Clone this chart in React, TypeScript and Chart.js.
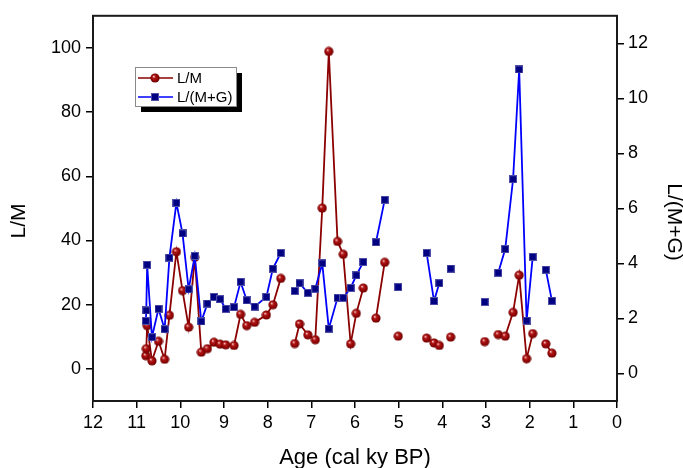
import React, { useEffect, useRef } from 'react';
import { Chart, registerables } from 'chart.js';

Chart.register(...registerables);

// null rows mark breaks in the original series
const ages: (number | null)[] = [
  10.79, 10.78, 10.76, 10.65, 10.5, 10.36, 10.25, 10.09, 9.95, 9.81, 9.67, 9.52, 9.38, 9.23, 9.09, 8.96, 8.77, 8.62, 8.48, 8.3, 8.03, 7.88, 7.7,
  null,
  7.38, 7.27, 7.08, 6.91, 6.75, 6.6, 6.4, 6.27, 6.1, 5.97, 5.81,
  null,
  5.52, 5.32,
  null,
  5.01,
  null,
  4.36, 4.19, 4.07,
  null,
  3.81,
  null,
  3.03,
  null,
  2.72, 2.56, 2.38, 2.24, 2.07, 1.93,
  null,
  1.63, 1.49,
];

const lmValues: (number | null)[] = [
  4.1, 6.3, 13.5, 2.5, 8.6, 3.0, 16.7, 36.5, 24.4, 13.0, 34.8, 5.2, 6.3, 8.3, 7.7, 7.5, 7.3, 17.0, 13.5, 14.5, 16.8, 20.0, 28.2,
  null,
  7.9, 14.0, 10.6, 9.1, 50.1, 98.9, 39.7, 35.7, 7.8, 17.3, 25.2,
  null,
  15.8, 33.2,
  null,
  10.2,
  null,
  9.6, 8.1, 7.3,
  null,
  9.9,
  null,
  8.5,
  null,
  10.7, 10.2, 17.6, 29.2, 3.2, 11.0,
  null,
  7.8, 4.9,
];

const lmgValues: (number | null)[] = [
  1.91, 2.29, 3.95, 1.32, 2.35, 1.61, 4.21, 6.2, 5.09, 3.06, 4.27, 1.89, 2.54, 2.78, 2.7, 2.35, 2.41, 3.33, 2.66, 2.43, 2.78, 3.81, 4.38,
  null,
  3.0, 3.28, 2.93, 3.08, 4.0, 1.63, 2.75, 2.75, 3.11, 3.57, 4.05,
  null,
  4.77, 6.31,
  null,
  3.14,
  null,
  4.38, 2.63, 3.28,
  null,
  3.81,
  null,
  2.6,
  null,
  3.66, 4.52, 7.06, 11.05, 1.92, 4.24,
  null,
  3.77, 2.64,
];

const ageTicks = [12, 11, 10, 9, 8, 7, 6, 5, 4, 3, 2, 1, 0];
const lmTicks = [0, 20, 40, 60, 80, 100];
const lmgTicks = [0, 2, 4, 6, 8, 10, 12];

const seriesLabels = ['L/M', 'L/(M+G)'];
const xTitle = 'Age (cal ky BP)';

const FONT = '"Liberation Sans", Arial, sans-serif';
const RED_LINE = '#8b0000';
const BLUE_LINE = '#0000ff';

function makeSphere(): HTMLCanvasElement {
  const c = document.createElement('canvas');
  c.width = 10;
  c.height = 10;
  const g = c.getContext('2d')!;
  const grad = g.createRadialGradient(3.6, 3.4, 0.2, 5, 5, 5);
  grad.addColorStop(0, '#ffc8c8');
  grad.addColorStop(0.3, '#b01818');
  grad.addColorStop(0.75, '#880000');
  grad.addColorStop(1, '#5a0000');
  g.fillStyle = grad;
  g.beginPath();
  g.arc(5, 5, 4.6, 0, Math.PI * 2);
  g.fill();
  return c;
}

function makeSquare(): HTMLCanvasElement {
  const c = document.createElement('canvas');
  c.width = 8;
  c.height = 8;
  const g = c.getContext('2d')!;
  g.fillStyle = '#5050a8';
  g.fillRect(0, 0, 8, 8);
  g.fillStyle = '#000080';
  g.fillRect(1, 1, 6, 6);
  return c;
}

function toPoints(vals: (number | null)[]) {
  let last = 0;
  return ages.map((a, i) => {
    if (a != null) last = a;
    return { x: a ?? last, y: a == null ? null : vals[i] };
  });
}

export default function App() {
  const ref = useRef<HTMLCanvasElement | null>(null);

  useEffect(() => {
    document.body.style.margin = '0';
    const canvas = ref.current;
    if (!canvas) return;
    const sphere = makeSphere();
    const square = makeSquare();

    const decor = {
      id: 'decor',
      afterDraw(chart: any) {
        const ctx = chart.ctx as CanvasRenderingContext2D;
        const a = chart.chartArea;
        ctx.save();
        // frame
        ctx.strokeStyle = '#1a1a1a';
        ctx.lineWidth = 2;
        ctx.strokeRect(a.left, a.top, a.right - a.left, a.bottom - a.top);

        // axis titles
        ctx.fillStyle = '#000';
        ctx.font = `22px ${FONT}`;
        ctx.textAlign = 'center';
        ctx.textBaseline = 'alphabetic';
        ctx.fillText(xTitle, (a.left + a.right) / 2, 464);

        ctx.font = `21px ${FONT}`;
        ctx.save();
        ctx.translate(19, 221);
        ctx.rotate(-Math.PI / 2);
        ctx.textBaseline = 'middle';
        ctx.fillText(seriesLabels[0], 0, 0);
        ctx.restore();

        ctx.save();
        ctx.translate(674, 222);
        ctx.rotate(Math.PI / 2);
        ctx.textBaseline = 'middle';
        ctx.fillText(seriesLabels[1], 0, 0);
        ctx.restore();

        // legend box
        const bx = 135, by = 67, bw = 101, bh = 39;
        ctx.fillStyle = '#000';
        ctx.fillRect(bx + 6, by + 6, bw, bh);
        ctx.fillStyle = '#fff';
        ctx.fillRect(bx, by, bw, bh);
        ctx.strokeStyle = '#8a8a8a';
        ctx.lineWidth = 1;
        ctx.strokeRect(bx + 0.5, by + 0.5, bw, bh);

        const rows = [
          { y: 78, color: RED_LINE, img: sphere, label: seriesLabels[0] },
          { y: 97, color: BLUE_LINE, img: square, label: seriesLabels[1] },
        ];
        rows.forEach((r) => {
          ctx.strokeStyle = r.color;
          ctx.lineWidth = 1.5;
          ctx.beginPath();
          ctx.moveTo(138, r.y);
          ctx.lineTo(173, r.y);
          ctx.stroke();
          ctx.drawImage(r.img, 155 - r.img.width / 2, r.y - r.img.height / 2);
          ctx.fillStyle = '#000';
          ctx.font = `15px ${FONT}`;
          ctx.textAlign = 'left';
          ctx.textBaseline = 'middle';
          ctx.fillText(r.label, 177, r.y + 1);
        });
        ctx.restore();
      },
    };

    const tickFont = { family: FONT, size: 18 };
    const gridCfg = {
      drawOnChartArea: false,
      drawTicks: true,
      tickLength: 7,
      color: '#000',
      lineWidth: 1.5,
    };

    const chart = new Chart(canvas, {
      type: 'line',
      data: {
        datasets: [
          {
            label: seriesLabels[0],
            data: toPoints(lmValues) as any,
            yAxisID: 'y',
            borderColor: RED_LINE,
            backgroundColor: RED_LINE,
            borderWidth: 1.8,
            pointStyle: sphere as any,
            pointRadius: 5,
            spanGaps: false,
            tension: 0,
            order: 2,
          },
          {
            label: seriesLabels[1],
            data: toPoints(lmgValues) as any,
            yAxisID: 'y1',
            borderColor: BLUE_LINE,
            backgroundColor: '#000080',
            borderWidth: 1.8,
            pointStyle: square as any,
            pointRadius: 4,
            spanGaps: false,
            tension: 0,
            order: 1,
          },
        ],
      },
      options: {
        animation: false,
        responsive: false,
        maintainAspectRatio: false,
        layout: { padding: { top: 15, left: 0, right: 0, bottom: 0 } },
        plugins: {
          legend: { display: false },
          tooltip: { enabled: false },
        },
        scales: {
          x: {
            type: 'linear',
            position: 'bottom',
            reverse: true,
            min: 0,
            max: 12,
            afterBuildTicks: (s: any) => {
              s.ticks = ageTicks.map((v) => ({ value: v }));
            },
            afterFit: (s: any) => {
              s.height = 67;
            },
            grid: gridCfg,
            border: { display: false },
            ticks: {
              color: '#000',
              font: tickFont,
              padding: 4,
              maxRotation: 0,
              autoSkip: false,
            },
          },
          y: {
            type: 'linear',
            position: 'left',
            min: -10,
            max: 110,
            afterBuildTicks: (s: any) => {
              s.ticks = lmTicks.map((v) => ({ value: v }));
            },
            afterFit: (s: any) => {
              s.width = 93;
            },
            grid: gridCfg,
            border: { display: false },
            ticks: { color: '#000', font: tickFont, padding: 5 },
          },
          y1: {
            type: 'linear',
            position: 'right',
            min: -1,
            max: 13,
            afterBuildTicks: (s: any) => {
              s.ticks = lmgTicks.map((v) => ({ value: v }));
            },
            afterFit: (s: any) => {
              s.width = 66;
            },
            grid: gridCfg,
            border: { display: false },
            ticks: { color: '#000', font: tickFont, padding: 4 },
          },
        },
      },
      plugins: [decor],
    } as any);

    return () => chart.destroy();
  }, []);

  return (
    <div style={{ width: 683, height: 468, background: '#fff' }}>
      <canvas ref={ref} width={683} height={468} style={{ display: 'block' }} />
    </div>
  );
}
